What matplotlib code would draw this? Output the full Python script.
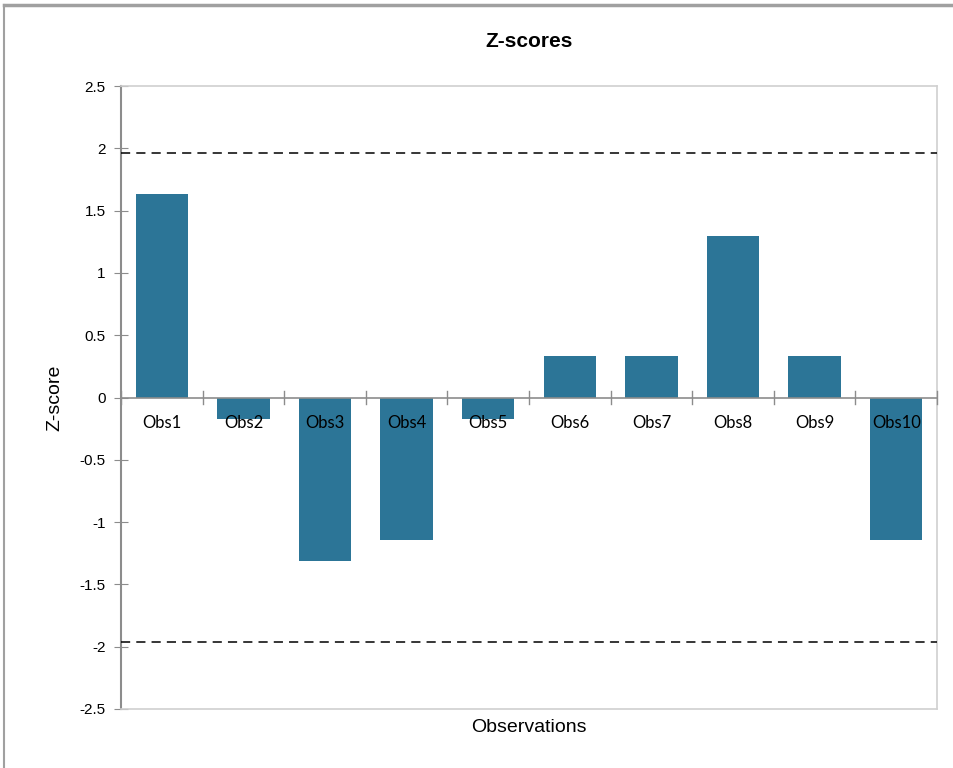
import matplotlib.pyplot as plt
import numpy as np
from matplotlib.lines import Line2D

# dados
obs = ['Obs1', 'Obs2', 'Obs3', 'Obs4', 'Obs5', 'Obs6', 'Obs7', 'Obs8', 'Obs9', 'Obs10']
zscores = [1.63, -0.17, -1.31, -1.14, -0.17, 0.33, 0.33, 1.30, 0.33, -1.14]
limite = 1.96
yticks = [-2.5, -2, -1.5, -1, -0.5, 0, 0.5, 1, 1.5, 2, 2.5]

plt.rcParams['font.family'] = ['Liberation Sans', 'DejaVu Sans']

fig = plt.figure(figsize=(9.54, 7.68), dpi=100)
W, H = 954, 768
ax = fig.add_axes([121 / W, 1 - 709 / H, (937 - 121) / W, (709 - 86) / H])

x = np.arange(len(obs))
ax.bar(x, zscores, width=0.64, color='#2C7597', zorder=2)
ax.axhline(limite, color='black', lw=1.1, ls=(0, (6, 4)), zorder=3)
ax.axhline(-limite, color='black', lw=1.1, ls=(0, (6, 4)), zorder=3)
ax.axhline(0, color='#8c8c8c', lw=1.2, zorder=3)

# marcas entre categorias no eixo zero
for b in np.arange(-0.5, len(obs), 1.0):
    ax.plot([b, b], [-0.05, 0.05], color='#8c8c8c', lw=1, zorder=3, clip_on=False)

for i, lab in enumerate(obs):
    ax.text(i, -0.14, lab, ha='center', va='top', fontsize=12, family=['Lato', 'DejaVu Sans'], zorder=4)

ax.set_xlim(-0.5, len(obs) - 0.5)
ax.set_ylim(-2.5, 2.5)
ax.set_yticks(yticks)
ax.set_yticklabels([('%g' % v) for v in yticks], fontsize=11)
ax.tick_params(axis='y', direction='inout', length=10, color='#8c8c8c', pad=6)
ax.set_xticks([])

for s in ['top', 'right', 'bottom']:
    ax.spines[s].set_color('#d0d0d0')
    ax.spines[s].set_linewidth(1.2)
ax.spines['left'].set_color('#8c8c8c')
ax.spines['left'].set_linewidth(1.5)

ax.set_title('Z-scores', fontsize=15, fontweight='bold', pad=28)
ax.set_xlabel('Observations', fontsize=14, labelpad=7)
ax.set_ylabel('Z-score', fontsize=14, labelpad=12)

# moldura externa
fig.add_artist(Line2D([4 / W, 4 / W], [0, 1 - 5 / H], color='#a0a0a0', lw=1.5))
fig.add_artist(Line2D([4 / W, 1], [1 - 5 / H, 1 - 5 / H], color='#a0a0a0', lw=2.5))

fig.savefig('out.png', dpi=100)
